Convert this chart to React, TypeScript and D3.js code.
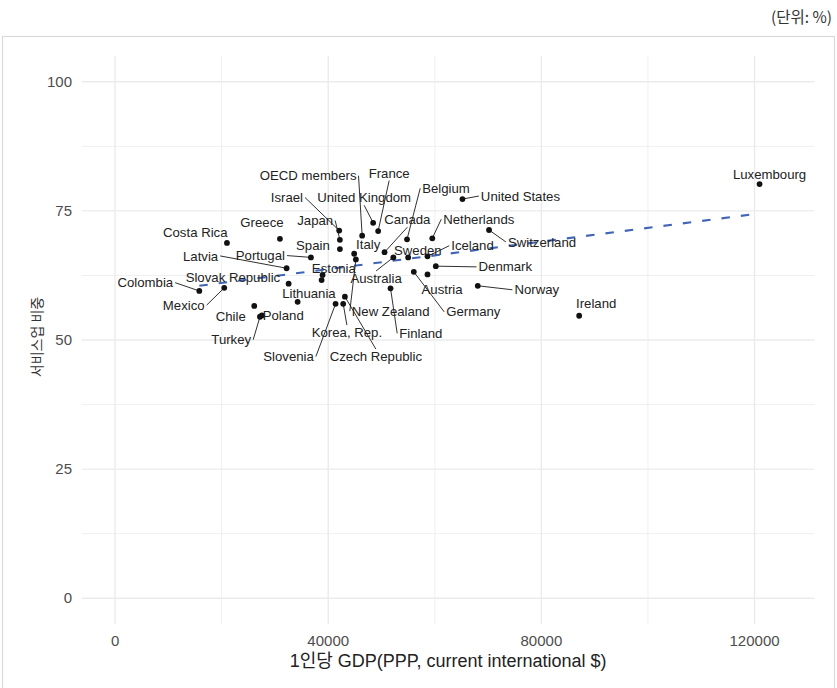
import React from 'react';
import * as d3 from 'd3';

// ---------- data ----------
const countries = [
  'Colombia', 'Mexico', 'Costa Rica', 'Chile', 'Turkey', 'Poland', 'Greece', 'Latvia',
  'Slovak Republic', 'Lithuania', 'Portugal', 'Estonia', 'Hungary', 'Slovenia', 'Israel',
  'Japan', 'Spain', 'Korea, Rep.', 'Czech Republic', 'Italy', 'New Zealand', 'OECD members',
  'United Kingdom', 'France', 'Canada', 'Finland', 'Australia', 'Belgium', 'Sweden', 'Germany',
  'Austria', 'Iceland', 'Netherlands', 'Denmark', 'United States', 'Norway', 'Switzerland',
  'Ireland', 'Luxembourg',
];
const gdpPerCapita = [
  15810, 20490, 21000, 26120, 27190, 27560, 30940, 32190,
  32570, 34260, 36750, 38940, 38760, 41380, 42060,
  42190, 42190, 42810, 43130, 44870, 45190, 46370,
  48430, 49370, 50570, 51690, 52220, 54790, 55000, 56060,
  58630, 58630, 59530, 60190, 65190, 68060, 70180,
  87090, 120940,
];
const serviceShare = [
  59.5, 60.1, 68.8, 56.6, 54.5, 54.75, 69.6, 63.9,
  60.9, 57.4, 66.0, 62.6, 61.6, 57.0, 71.2,
  69.4, 67.6, 57.0, 58.4, 66.7, 65.6, 70.2,
  72.7, 71.1, 67.0, 60.0, 66.0, 69.5, 66.0, 63.2,
  62.7, 66.2, 69.7, 64.3, 77.3, 60.5, 71.3,
  54.7, 80.2,
];
// fitted trend (linear smooth) values at the smallest and largest GDP
const trendValues = [60.5, 74.5];
const unlabeled = ['Hungary'];
const xLimits = [0, 125000];
const yLimits = [0, 100];
const xTicks = [0, 40000, 80000, 120000];
const xMinorTicks = [20000, 60000, 100000];
const yTicks = [0, 25, 50, 75, 100];
const yMinorTicks = [12.5, 37.5, 62.5, 87.5];
const xTitle = '1인당 GDP(PPP, current international $)';
const yTitle = '서비스업 비중';
const unitNote = '(단위: %)';

// ---------- layout (label placement, px offsets from the point) ----------
const labelLayout: Record<string, { dx: number; dy: number; side?: string }> = {
  'Colombia': { dx: -54, dy: -8.3 },
  'Mexico': { dx: -40.5, dy: 17.3 },
  'Costa Rica': { dx: -31.7, dy: -10.7 },
  'Chile': { dx: -23.5, dy: 10.7 },
  'Turkey': { dx: -28.7, dy: 23 },
  'Poland': { dx: 21.3, dy: 0.2 },
  'Greece': { dx: -18, dy: -16 },
  'Latvia': { dx: -86, dy: -12.3 },
  'Slovak Republic': { dx: -55.7, dy: -6.7 },
  'Lithuania': { dx: 11.3, dy: -8.4 },
  'Portugal': { dx: -50.5, dy: -1.8 },
  'Estonia': { dx: 11.3, dy: -6.7 },
  'Slovenia': { dx: -47, dy: 52.7 },
  'Israel': { dx: -52.3, dy: -33 },
  'Japan': { dx: -24.7, dy: -19.3 },
  'Spain': { dx: -27, dy: -3.3 },
  'Korea, Rep.': { dx: 3.7, dy: 28.7 },
  'Czech Republic': { dx: 31, dy: 60 },
  'Italy': { dx: 14, dy: -9.7 },
  'New Zealand': { dx: 34.8, dy: 51.7 },
  'OECD members': { dx: -54, dy: -60 },
  'United Kingdom': { dx: -9, dy: -25 },
  'France': { dx: 11, dy: -58 },
  'Canada': { dx: 22.8, dy: -32.5, side: 'b' },
  'Finland': { dx: 30.3, dy: 45 },
  'Australia': { dx: -17.2, dy: 21 },
  'Belgium': { dx: 39, dy: -51 },
  'Sweden': { dx: 9.7, dy: -7.5 },
  'Germany': { dx: 59.5, dy: 40 },
  'Austria': { dx: 14.6, dy: 15 },
  'Iceland': { dx: 45, dy: -10.6 },
  'Netherlands': { dx: 46.5, dy: -19 },
  'Denmark': { dx: 69.5, dy: 0.7 },
  'United States': { dx: 58, dy: -3 },
  'Norway': { dx: 59, dy: 4 },
  'Switzerland': { dx: 53, dy: 12 },
  'Ireland': { dx: 17, dy: -12 },
  'Luxembourg': { dx: 10, dy: -10 },
};

const W = 837;
const H = 688;
const panel = { left: 81.75, right: 814.5, top: 56, bottom: 624 };
const LABEL_FONT = 13.2;
const LABEL_FAMILY = '"Liberation Sans", Arial, sans-serif';

let measureCtx: CanvasRenderingContext2D | null = null;
function textWidth(s: string, font: string) {
  if (!measureCtx) {
    const c = document.createElement('canvas');
    measureCtx = c.getContext('2d');
  }
  if (!measureCtx) return s.length * LABEL_FONT * 0.55;
  measureCtx.font = font;
  return measureCtx.measureText(s).width;
}

export default function App() {
  const xr = xLimits[1] - xLimits[0];
  const yr = yLimits[1] - yLimits[0];
  const x = d3.scaleLinear()
    .domain([xLimits[0] - 0.05 * xr, xLimits[1] + 0.05 * xr])
    .range([panel.left, panel.right]);
  const y = d3.scaleLinear()
    .domain([yLimits[0] - 0.05 * yr, yLimits[1] + 0.05 * yr])
    .range([panel.bottom, panel.top]);

  const pts = countries.map((name, i) => ({ name, gx: gdpPerCapita[i], sv: serviceShare[i] }));

  const [gx0, gx1] = d3.extent(gdpPerCapita) as [number, number];
  const trend: [number, number][] = [[gx0, trendValues[0]], [gx1, trendValues[1]]];
  const line = d3.line<[number, number]>().x((d) => x(d[0])).y((d) => y(d[1]));

  const labels = pts
    .filter((p) => !unlabeled.includes(p.name) && labelLayout[p.name])
    .map((p) => {
      const px = x(p.gx);
      const py = y(p.sv);
      const L = labelLayout[p.name];
      const cx = px + L.dx;
      const cy = py + L.dy;
      const w = textWidth(p.name, `${LABEL_FONT}px ${LABEL_FAMILY}`);
      const hw = w / 2 + 2;
      const hh = 7.5;
      const cands: Record<string, [number, number]> = {
        l: [cx - hw, cy], r: [cx + hw, cy], t: [cx, cy - hh], b: [cx, cy + hh],
      };
      let end: [number, number] = cands.l;
      if (L.side) end = cands[L.side];
      else {
        let best = Infinity;
        Object.values(cands).forEach((c) => {
          const d = Math.hypot(c[0] - px, c[1] - py);
          if (d < best) { best = d; end = c; }
        });
      }
      const ddx = Math.max(cx - hw - px, 0, px - (cx + hw));
      const ddy = Math.max(cy - hh - py, 0, py - (cy + hh));
      const dist = Math.hypot(ddx, ddy);
      return { name: p.name, px, py, cx, cy, end, showSeg: dist > 12 };
    });

  return (
    <svg width={W} height={H} style={{ position: 'absolute', left: 0, top: 0, background: '#fff' }}>
      <rect x={2.5} y={36.5} width={832} height={670} fill="none" stroke="#d9d9d9" strokeWidth={1.2} />
      <text x={832} y={23} textAnchor="end" fontFamily='"Noto Sans CJK KR", sans-serif' fontSize={15.5} fill="#333">
        {unitNote}
      </text>

      {/* grid */}
      <g>
        {yMinorTicks.map((t) => (
          <line key={'ym' + t} x1={panel.left} x2={panel.right} y1={y(t)} y2={y(t)} stroke="#ececec" strokeWidth={0.8} />
        ))}
        {xMinorTicks.map((t) => (
          <line key={'xm' + t} x1={x(t)} x2={x(t)} y1={panel.top} y2={panel.bottom} stroke="#ececec" strokeWidth={0.8} />
        ))}
        {yTicks.map((t) => (
          <line key={'y' + t} x1={panel.left} x2={panel.right} y1={y(t)} y2={y(t)} stroke="#ebebeb" strokeWidth={1.4} />
        ))}
        {xTicks.map((t) => (
          <line key={'x' + t} x1={x(t)} x2={x(t)} y1={panel.top} y2={panel.bottom} stroke="#ebebeb" strokeWidth={1.4} />
        ))}
      </g>

      {/* axis tick labels */}
      <g fontFamily={LABEL_FAMILY} fontSize={15} fill="#4d4d4d">
        {yTicks.map((t) => (
          <text key={'yl' + t} x={72} y={y(t)} dy="0.35em" textAnchor="end">{t}</text>
        ))}
        {xTicks.map((t) => (
          <text key={'xl' + t} x={x(t)} y={646} textAnchor="middle">{t}</text>
        ))}
      </g>

      {/* axis titles */}
      <text x={(panel.left + panel.right) / 2} y={667} textAnchor="middle"
        fontFamily={`${LABEL_FAMILY}, "Noto Sans CJK KR"`} fontSize={18} fill="#222">
        {xTitle}
      </text>
      <text transform={`translate(37,337) rotate(-90)`} textAnchor="middle"
        dy="0.35em" fontFamily='"Noto Sans CJK KR", sans-serif' fontSize={14} fill="#333">
        {yTitle}
      </text>

      {/* trend line */}
      <path d={line(trend) || ''} fill="none" stroke="#4165b6" strokeWidth={2.1} strokeDasharray="8.5,11" />

      {/* segments */}
      <g stroke="#1a1a1a" strokeWidth={0.9}>
        {labels.filter((l) => l.showSeg).map((l) => (
          <line key={'s' + l.name} x1={l.px} y1={l.py} x2={l.end[0]} y2={l.end[1]} />
        ))}
      </g>

      {/* points */}
      <g fill="#111">
        {pts.map((p) => (
          <circle key={'p' + p.name} cx={x(p.gx)} cy={y(p.sv)} r={2.9} />
        ))}
      </g>

      {/* labels */}
      <g fontFamily={LABEL_FAMILY} fontSize={LABEL_FONT} fill="#222">
        {labels.map((l) => (
          <text key={'t' + l.name} x={l.cx} y={l.cy} dy="0.35em" textAnchor="middle">{l.name}</text>
        ))}
      </g>
    </svg>
  );
}
